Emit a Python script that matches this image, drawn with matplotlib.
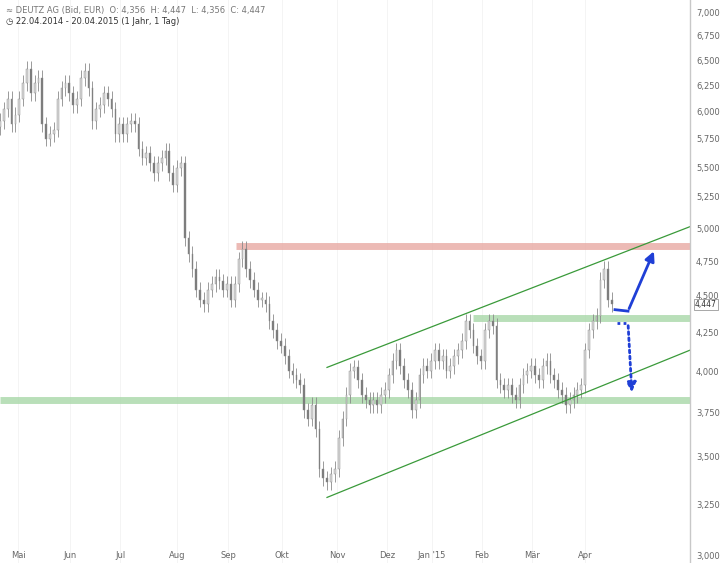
import matplotlib
matplotlib.use("Agg")
import matplotlib.pyplot as plt
import numpy as np

# Closing prices (EUR), roughly every second trading day, 22.04.2014 - 20.04.2015
closes = [
    5.92, 6.03, 6.13, 5.89, 5.98, 6.13, 6.28, 6.42, 6.18, 6.28, 6.33, 5.89,
    5.76, 5.80, 5.84, 6.13, 6.23, 6.28, 6.18, 6.07, 6.13, 6.33, 6.40, 6.23,
    5.92, 6.03, 6.07, 6.18, 6.13, 6.03, 5.80, 5.89, 5.80, 5.89, 5.92, 5.89,
    5.67, 5.59, 5.63, 5.54, 5.46, 5.54, 5.59, 5.65, 5.46, 5.36, 5.50, 5.54,
    4.93, 4.81, 4.70, 4.55, 4.48, 4.45, 4.55, 4.59, 4.64, 4.61, 4.55, 4.59,
    4.48, 4.59, 4.77, 4.85, 4.70, 4.62, 4.55, 4.48, 4.48, 4.45, 4.33, 4.27,
    4.20, 4.17, 4.10, 4.01, 3.98, 3.95, 3.92, 3.77, 3.72, 3.80, 3.66, 3.44,
    3.39, 3.37, 3.41, 3.44, 3.61, 3.72, 3.86, 4.01, 4.03, 3.95, 3.86, 3.83,
    3.80, 3.83, 3.80, 3.86, 3.89, 3.98, 4.07, 4.14, 4.04, 3.95, 3.89, 3.77,
    3.83, 3.98, 4.04, 4.01, 4.07, 4.14, 4.07, 4.10, 4.01, 4.04, 4.10, 4.14,
    4.20, 4.33, 4.27, 4.17, 4.10, 4.07, 4.27, 4.33, 4.30, 3.95, 3.92, 3.89,
    3.92, 3.86, 3.83, 3.92, 3.98, 4.01, 4.04, 3.98, 3.95, 4.04, 4.07, 3.98,
    3.95, 3.89, 3.86, 3.80, 3.83, 3.86, 3.89, 3.92, 4.14, 4.27, 4.33, 4.37,
    4.62, 4.70, 4.48, 4.447,
]
wick = 0.012

month_labels = ["Mai", "Jun", "Jul", "Aug", "Sep", "Okt", "Nov", "Dez",
                "Jan '15", "Feb", "Mär", "Apr"]
month_px = [18, 70, 120, 177, 228, 282, 337, 387, 432, 482, 532, 585]
y_ticks = [3.0, 3.25, 3.5, 3.75, 4.0, 4.25, 4.5, 4.75, 5.0, 5.25, 5.5,
           5.75, 6.0, 6.25, 6.5, 6.75, 7.0]

n = len(closes)
last_px = 612.0
step = last_px / (n - 1)          # pixels per candle


def px(x):
    # convert pixel column of the reference to candle index units
    return x / step


fig = plt.figure(figsize=(7.2, 5.63), dpi=100)
ax = fig.add_axes([0, 0, 690 / 720, 1])
ax.set_yscale("log")
ax.set_xlim(0, px(690))
ax.set_ylim(2.97, 7.15)
ax.set_axis_off()

# candles
opens = [closes[0] * 0.99] + closes[:-1]
for i, (o, c) in enumerate(zip(opens, closes)):
    up = c >= o
    body_col = "#d8d8d8" if up else "#7a7a7a"
    hi = max(o, c) * (1 + wick)
    lo = min(o, c) * (1 - wick)
    ax.vlines(i, lo, hi, color="#8a8a8a", linewidth=0.6, zorder=3)
    b = min(o, c)
    h = max(abs(c - o), 0.01)
    ax.bar(i, h, bottom=b, width=0.45, color=body_col, edgecolor="#8a8a8a",
           linewidth=0.3, zorder=4)

# resistance / support zones
ax.hlines(4.87, px(236), px(690), color="#e8a9a3", linewidth=5, alpha=0.8, zorder=2)
ax.hlines(4.35, px(473), px(690), color="#a8d8a8", linewidth=5, alpha=0.8, zorder=2)
ax.hlines(3.83, 0, px(690), color="#a8d8a8", linewidth=5, alpha=0.8, zorder=2)

# trend channel
ax.plot([px(327), px(690)], [4.03, 5.02], color="#3a9a3a", linewidth=0.9, zorder=5)
ax.plot([px(327), px(690)], [3.29, 4.14], color="#3a9a3a", linewidth=0.9, zorder=5)

# scenario arrows
ax.plot([px(615), px(628)], [4.41, 4.40], color="#1f3fd6", linewidth=2, zorder=6)
ax.annotate("", xy=(px(655), 4.85), xytext=(px(628), 4.40),
            arrowprops=dict(arrowstyle="-|>", color="#1f3fd6", lw=2,
                            mutation_scale=14), zorder=6)
ax.plot([px(617), px(628)], [4.32, 4.32], color="#1f3fd6", linewidth=2,
        linestyle=(0, (1, 1.2)), zorder=6)
ax.annotate("", xy=(px(632), 3.86), xytext=(px(628), 4.32),
            arrowprops=dict(arrowstyle="-|>", color="#1f3fd6", lw=2,
                            linestyle=(0, (1, 1.2)), mutation_scale=14), zorder=6)

# right price axis
fig.add_artist(plt.Line2D([690 / 720, 690 / 720], [0, 1], color="#c8c8c8", linewidth=1))
for t in y_ticks:
    ax.text(px(696), t, f"{t:,.3f}".replace(".", ","), fontsize=6, color="#666666",
            va="center", ha="left", clip_on=False)
ax.text(px(695), 4.447, "4,447", fontsize=5.5, color="#333333", va="center", ha="left",
        clip_on=False, bbox=dict(boxstyle="square,pad=0.15", fc="white", ec="#999999", lw=0.6))

# month labels
for lab, x in zip(month_labels, month_px):
    ax.text(px(x), 3.005, lab, fontsize=6, color="#666666", ha="center", va="center")
    ax.axvline(px(x), color="#f2f2f2", linewidth=0.6, zorder=1)

# header
fig.text(6 / 720, 1 - 10 / 563, "\u2248 DEUTZ AG (Bid, EUR)  O: 4,356  H: 4,447  L: 4,356  C: 4,447",
         fontsize=6, color="#777777", va="center")
fig.text(6 / 720, 1 - 21 / 563, "\u25f7 22.04.2014 - 20.04.2015 (1 Jahr, 1 Tag)",
         fontsize=6, color="#333333", va="center")

fig.savefig("out.png", dpi=100)
